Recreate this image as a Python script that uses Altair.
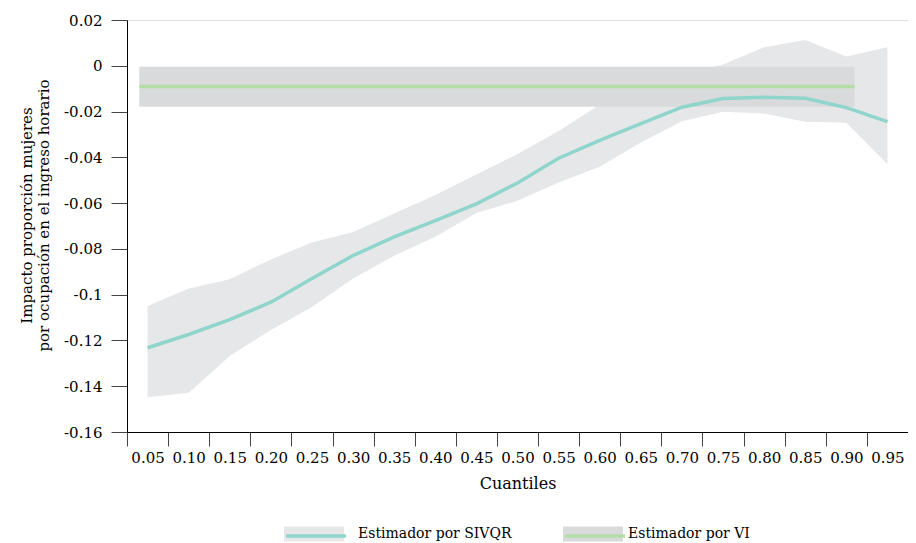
import altair as alt
import pandas as pd

# ---------------- data ----------------
cuantiles = [0.05, 0.10, 0.15, 0.20, 0.25, 0.30, 0.35, 0.40, 0.45, 0.50,
             0.55, 0.60, 0.65, 0.70, 0.75, 0.80, 0.85, 0.90, 0.95]
sivqr = [-0.1232, -0.1174, -0.1109, -0.1033, -0.0929, -0.0829, -0.0748, -0.0677, -0.0603, -0.0512,
         -0.0404, -0.0326, -0.0253, -0.0181, -0.0143, -0.0138, -0.0142, -0.0183, -0.0244]
sivqr_low = [-0.1448, -0.1428, -0.1268, -0.1154, -0.1054, -0.0929, -0.0830, -0.0747, -0.0643, -0.0590,
             -0.0510, -0.0441, -0.0335, -0.0242, -0.0201, -0.0209, -0.0244, -0.0249, -0.0429]
sivqr_high = [-0.1049, -0.0973, -0.0933, -0.0846, -0.0772, -0.0726, -0.0645, -0.0565, -0.0475, -0.0385,
              -0.0285, -0.0170, -0.0100, -0.0037, 0.0006, 0.0081, 0.0113, 0.0040, 0.0081]

vi_est = -0.0091
vi_low = -0.0179
vi_high = -0.0004
vi_x_start = 0.04
vi_x_end = 0.91

series = ["Estimador por SIVQR", "Estimador por VI"]
line_keys = ["SIVQR", "VI"]
y_ticks = [0.02, 0.0, -0.02, -0.04, -0.06, -0.08, -0.10, -0.12, -0.14, -0.16]
x_tick_bounds = [0.025, 0.075, 0.125, 0.175, 0.225, 0.275, 0.325, 0.375, 0.425, 0.475,
                 0.525, 0.575, 0.625, 0.675, 0.725, 0.775, 0.825, 0.875, 0.925]

# ---------------- styling ----------------
FONT = "DejaVu Serif"
TEAL = "#8fd5cc"
GREEN = "#b4dea6"
BAND1 = "#e6e7e8"
BAND2 = "#d9dadc"
W, H = 781, 412
STEP = W / len(cuantiles)

df = pd.DataFrame({
    "q": cuantiles, "est": sivqr, "low": sivqr_low, "high": sivqr_high,
    "banda": [series[0]] * len(cuantiles),
    "linea": [line_keys[0]] * len(cuantiles),
})
dvi = pd.DataFrame({
    "x0": [vi_x_start], "x1": [vi_x_end], "est": [vi_est],
    "low": [vi_low], "high": [vi_high],
    "banda": [series[1]], "linea": [line_keys[1]],
})

xscale = alt.Scale(domain=[0.025, 0.975], nice=False, zero=False)
yscale = alt.Scale(domain=[-0.16, 0.02], nice=False, zero=False)

x_axis = alt.Axis(
    values=x_tick_bounds,
    labelExpr="format(datum.value + 0.025, '.2f')",
    labelOffset=STEP / 2,
    labelFlush=False, labelOverlap=False, labelBound=False,
    tickSize=14, labelPadding=4, grid=False,
    title="Cuantiles", titlePadding=10, titleFontSize=16,
)
y_axis = alt.Axis(
    values=y_ticks,
    labelExpr="(datum.value < -0.0001 ? '-' : '') + format(abs(datum.value), '.2~f')",
    tickSize=16, labelPadding=9, grid=False,
    title=["Impacto proporción mujeres", "por ocupación en el ingreso horario"],
    titlePadding=12, titleFontSize=15, titleY=195,
)

RECT = "M-1,-0.25H1V0.25H-1Z"
LEG_Y = 484
LEG_X1 = 157
LEG_X2 = 436


def rect_legend(x, offset):
    return alt.Legend(
        orient="none", legendX=x, legendY=LEG_Y, title=None, padding=0,
        symbolType=RECT, symbolSize=3600, symbolStrokeWidth=0, labelOffset=offset,
    )


def line_legend(x, color):
    return alt.Legend(
        orient="none", legendX=x, legendY=LEG_Y, title=None, padding=0,
        symbolType="stroke", symbolSize=3600, symbolStrokeWidth=3.5,
        symbolStrokeColor=color, labelExpr="''",
    )


band = alt.Chart(df).mark_area().encode(
    x=alt.X("q:Q", scale=xscale, axis=x_axis),
    y=alt.Y("low:Q", scale=yscale, axis=y_axis),
    y2="high:Q",
    fill=alt.Fill("banda:N", scale=alt.Scale(domain=[series[0]], range=[BAND1]),
                  legend=rect_legend(LEG_X1, 14)),
)
vi_band = alt.Chart(dvi).mark_rect().encode(
    x=alt.X("x0:Q", scale=xscale),
    x2="x1:Q",
    y=alt.Y("low:Q", scale=yscale),
    y2="high:Q",
    color=alt.Color("banda:N", scale=alt.Scale(domain=[series[1]], range=[BAND2]),
                    legend=rect_legend(LEG_X2, 5)),
)
line = alt.Chart(df).mark_line(strokeWidth=3.5).encode(
    x=alt.X("q:Q", scale=xscale),
    y=alt.Y("est:Q", scale=yscale),
    stroke=alt.Stroke("linea:N", scale=alt.Scale(domain=[line_keys[0]], range=[TEAL]),
                      legend=line_legend(LEG_X1, TEAL)),
)
vi_line = alt.Chart(dvi).mark_rule(strokeWidth=3.5, stroke=GREEN).encode(
    x=alt.X("x0:Q", scale=xscale),
    x2="x1:Q",
    y=alt.Y("est:Q", scale=yscale),
    strokeDash=alt.StrokeDash("linea:N", scale=alt.Scale(domain=[line_keys[1]], range=[[1, 0]]),
                              legend=line_legend(LEG_X2, GREEN)),
)

chart = alt.layer(band, vi_band, line, vi_line).properties(
    width=W, height=H,
    autosize=alt.AutoSizeParams(type="none"),
    padding={"left": 119, "top": 12, "right": 0, "bottom": 111},
).configure_view(stroke=None).configure(
    font=FONT,
).configure_axis(
    labelFont=FONT, titleFont=FONT, labelFontSize=15, labelColor="#000",
    titleColor="#000", titleFontWeight="normal",
    domainColor="#000", domainWidth=1, tickColor="#444", tickWidth=1,
).configure_legend(
    labelFont=FONT, labelFontSize=14, labelColor="#000",
)

chart.save("out.html", embed_options={"renderer": "svg", "actions": False})
